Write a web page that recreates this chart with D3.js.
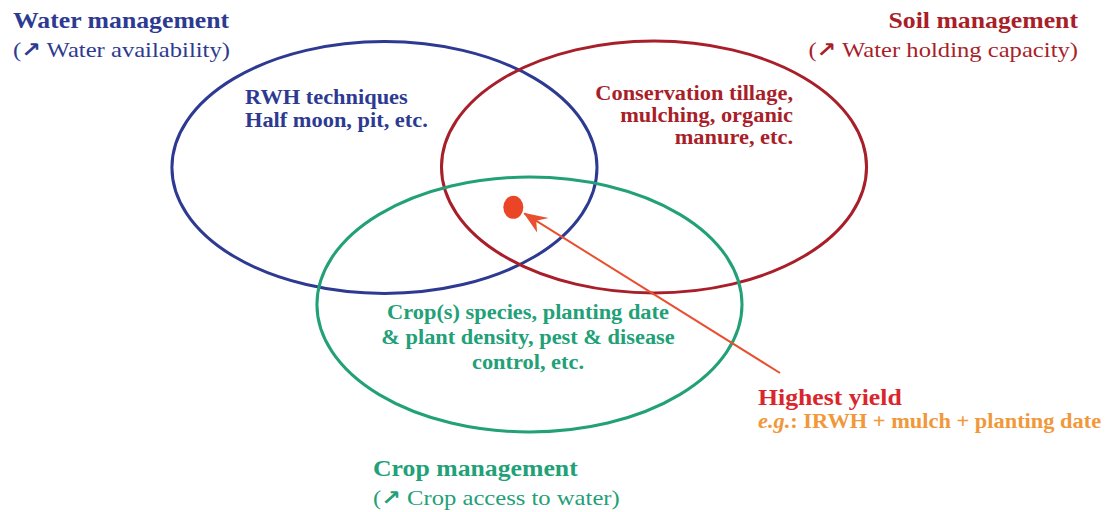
<!DOCTYPE html>
<html lang="en">
<head>
<meta charset="UTF-8">
<title>Water, soil and crop management</title>
<script src="https://d3js.org/d3.v7.min.js"></script>
<style>
body, html {
	margin: 0;
	padding: 0;
	background: #fff;
}
text {
	font-family: "Liberation Serif", "Times New Roman", serif;
}
.heading {
	font-weight: bold;
	font-size: 23px;
}
.sub {
	font-size: 22px;
}
.item {
	font-weight: bold;
	font-size: 20px;
}
.arrowGlyph {
	font-family: "DejaVu Sans", sans-serif;
	font-weight: bold;
	font-size: 21px;
}
.ring {
	fill: none;
	stroke-width: 3px;
}
</style>
</head>
<body>
<script>
// the three management sets (diagram units, 0-100 on each axis)
var setNames = ["Water management", "Soil management", "Crop management"];
var setGoals = ["Water availability", "Water holding capacity", "Crop access to water"];
var setColors = ["#2d3a92", "#a81f2a", "#22a077"];
var setCx = [34.73, 59.08, 47.83];
var setCy = [32.71, 32.62, 59.47];
var setRx = [19.2, 19.2, 19.2];
var setRy = [24.6, 24.6, 24.9];

var setItems = [
	["RWH techniques", "Half moon, pit, etc."],
	["Conservation tillage,", "mulching, organic", "manure, etc."],
	["Crop(s) species, planting date", "& plant density, pest & disease", "control, etc."]
];

var bestLabel = "Highest yield";
var bestExample = ["e.g.", ": IRWH + mulch + planting date"];
var bestPoint = [46.37, 40.5];
var bestFrom = [70.46, 72.85];

var w = 1107;
var h = 512;
var stretch = 1.12; // lettering in the source is a little wide

var svg = d3.select("body").append("svg")
	.attr("width", w)
	.attr("height", h);

var x = d3.scaleLinear().domain([0, 100]).range([0, w]);
var y = d3.scaleLinear().domain([0, 100]).range([0, h]);

var defs = svg.append("defs");
defs.append("marker")
	.attr("id", "head")
	.attr("viewBox", "0 0 26 20")
	.attr("refX", 1)
	.attr("refY", 10)
	.attr("markerWidth", 26)
	.attr("markerHeight", 20)
	.attr("markerUnits", "userSpaceOnUse")
	.attr("orient", "auto")
	.append("path")
	.attr("d", "M0,10 L24,1 L15,10 L22,19.5 Z")
	.style("fill", "#e8502f");

function label(px, py, anchor, cls, color){
	return svg.append("text")
		.attr("class", cls)
		.attr("transform", "translate(" + px + "," + py + ") scale(" + stretch + ",1)")
		.style("text-anchor", anchor)
		.style("fill", color);
}

var sets = d3.range(setNames.length);

// rings
svg.selectAll(".ring")
	.data(sets)
	.enter()
	.append("ellipse")
	.classed("ring", true)
	.attr("cx", function(i){ return x(setCx[i]); })
	.attr("cy", function(i){ return y(setCy[i]); })
	.attr("rx", function(i){ return x(setRx[i]); })
	.attr("ry", function(i){ return y(setRy[i]); })
	.style("stroke", function(i){ return setColors[i]; });

// pointer to the overlap
svg.append("line")
	.attr("x1", x(bestPoint[0]) + 11)
	.attr("y1", y(bestPoint[1]) + 6)
	.attr("x2", x(bestFrom[0]))
	.attr("y2", y(bestFrom[1]))
	.attr("marker-start", "url(#head)")
	.style("stroke", "#e8502f")
	.style("stroke-width", 2);

svg.append("ellipse")
	.attr("cx", x(bestPoint[0]))
	.attr("cy", y(bestPoint[1]))
	.attr("rx", 10)
	.attr("ry", 11.5)
	.style("fill", "#ea4526");

// headings: [x, baseline, anchor]
var headPos = [[13, 28, "start"], [1078, 28, "end"], [373, 476, "start"]];

sets.forEach(function(i){
	var p = headPos[i];
	label(p[0], p[1], p[2], "heading", setColors[i]).text(setNames[i]);

	var t = label(p[0], p[1] + 29, p[2], "sub", setColors[i]);
	t.append("tspan").text("(");
	t.append("tspan").classed("arrowGlyph", true).text("\u2197");
	t.append("tspan").text(" " + setGoals[i] + ")");
});

// items inside the rings: [x, first baseline, line step, anchor]
var itemPos = [[245, 104, 23, "start"], [793, 100, 22, "end"], [528, 319, 25, "middle"]];

sets.forEach(function(i){
	var p = itemPos[i];
	setItems[i].forEach(function(d, k){
		label(p[0], p[1] + k * p[2], p[3], "item", setColors[i]).text(d);
	});
});

label(758, 405, "start", "heading", "#d9262c").text(bestLabel);

var ex = label(758, 428, "start", "item", "#f0983a");
ex.append("tspan").style("font-style", "italic").text(bestExample[0]);
ex.append("tspan").text(bestExample[1]);
</script>
</body>
</html>
